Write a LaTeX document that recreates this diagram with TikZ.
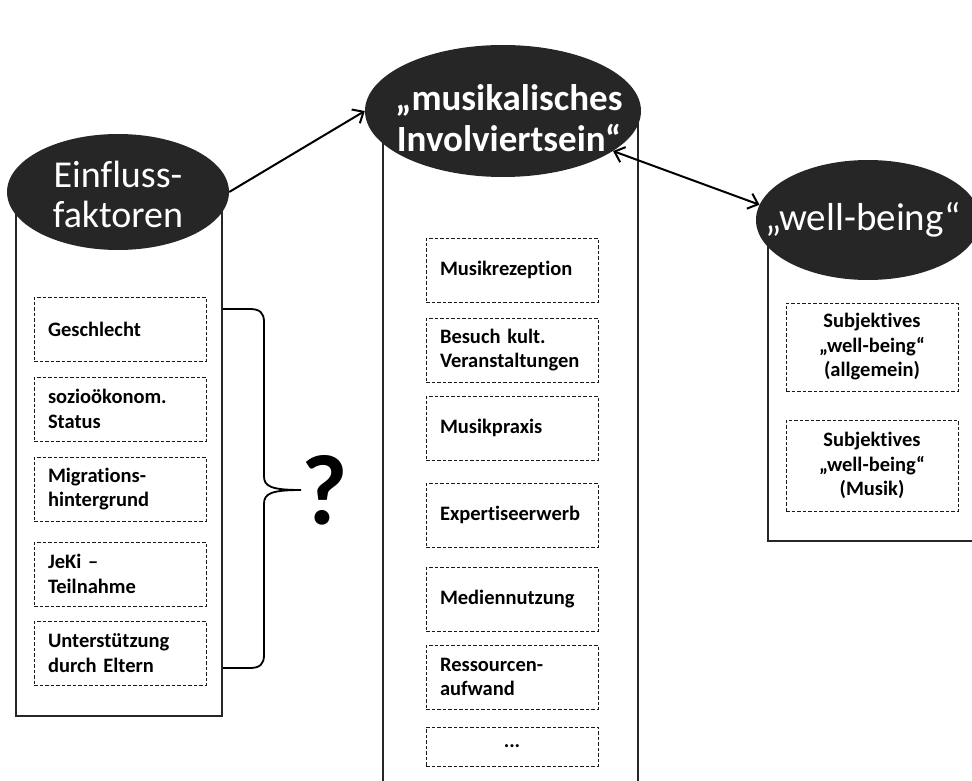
\documentclass[tikz,border=0pt]{standalone}
\usepackage{fontspec}
\setmainfont{Carlito}[Ligatures=NoCommon]
\usetikzlibrary{arrows.meta,positioning,shapes.geometric}
\definecolor{mivDark}{HTML}{262626}
\tikzset{
  panelbox/.style={rectangle,draw=black!85,fill=white,line width=1.8pt,inner sep=0pt},
  itembox/.style={rectangle,draw=black!90,dash pattern=on 3.5pt off 2pt,line width=1pt,
    minimum width=172pt,minimum height=64pt,text width=144pt,align=left,inner sep=0pt,
    font=\fontsize{20.5}{24.5}\selectfont\bfseries},
  itemmid/.style={itembox,align=center},
  headblob/.style={ellipse,fill=mivDark,inner sep=0pt},
  headtext/.style={text=white,align=center,inner sep=0pt},
  arrow/.style={-{Straight Barb[length=9pt,width=16pt]},line width=2pt},
  dblarrow/.style={{Straight Barb[length=9pt,width=16pt]}-{Straight Barb[length=9pt,width=16pt]},line width=2pt},
  bracket/.style={line width=1.8pt}
}

\begin{document}
\begin{tikzpicture}[x=1pt,y=-1pt]
  \clip (0,0) rectangle (972,781);
  % panels behind the heads
  \node[panelbox,minimum width=206pt,minimum height=516pt] (leftpanel) at (119,458) {};
  \node[panelbox,minimum width=255pt,minimum height=690pt] (midpanel) at (510.5,457) {};
  \node[panelbox,minimum width=222pt,minimum height=316pt] (rightpanel) at (879,383) {};
  % heads
  \node[headblob,minimum width=222pt,minimum height=116pt,
    label={[headtext,font=\fontsize{38}{40}\selectfont,yshift=-2pt]center:Einfluss-\\faktoren}] (einfluss) at (118,192) {};
  \node[headblob,minimum width=276pt,minimum height=132pt,
    label={[headtext,font=\fontsize{37}{41}\selectfont\bfseries,xshift=6pt,yshift=-7pt]center:„musikalisches\\Involviertsein“}] (involv) at (503,111) {};
  \node[headblob,minimum width=224pt,minimum height=120pt,
    label={[headtext,font=\fontsize{39}{44}\selectfont,xshift=-5pt]center:„well-being“}] (wellb) at (868,220) {};
  % Einflussfaktoren
  \node[itembox] (geschl) at (120,329) {Geschlecht};
  \node[itembox] (sozio) at (120,409) {sozioökonom.\\Status};
  \node[itembox] (migr) at (120,489) {Migrations-\\hintergrund};
  \node[itembox] (jeki) at (120,574) {JeKi –\\Teilnahme};
  \node[itembox] (eltern) at (120,653) {Unterstützung\\durch Eltern};
  % Involviertsein
  \node[itembox] (rezep) at (512,270) {Musikrezeption};
  \node[itembox] (besuch) at (512,350) {Besuch kult.\\Veranstaltungen};
  \node[itembox] (praxis) at (512,428) {Musikpraxis};
  \node[itembox] (expert) at (512,515) {Expertiseerwerb};
  \node[itembox] (medien) at (512,599) {Mediennutzung};
  \node[itembox] (ressour) at (512,677) {Ressourcen-\\aufwand};
  \node[itemmid,minimum height=39pt] (weitere) at (512,746.5) {...};
  % well-being
  \node[itemmid,minimum height=88pt] (swballg) at (872,347) {Subjektives\\„well-being“\\(allgemein)};
  \node[itemmid,minimum height=91pt] (swbmusik) at (872,465.5) {Subjektives\\„well-being“\\(Musik)};
  % Klammer mit Fragezeichen
  \node[font=\fontsize{100}{100}\selectfont\bfseries,inner sep=0pt] (frage) at (325,490) {?};
  \coordinate (brtop) at (223,309);
  \coordinate (brbot) at (223,668);
  \coordinate (brtip) at (301,490);
  \draw[bracket] (brtop) -- (250,309) .. controls (260,309) and (264,313) .. (264,322)
    -- (264,476) .. controls (264,486) and (270,490) .. (brtip)
    .. controls (270,490) and (264,494) .. (264,504)
    -- (264,655) .. controls (264,664) and (260,668) .. (250,668) -- (brbot);
  % connectors
  \draw[arrow] (einfluss.east) -- (involv.west);
  \draw[dblarrow] (involv.-20) -- (wellb.172);
\end{tikzpicture}
\end{document}
